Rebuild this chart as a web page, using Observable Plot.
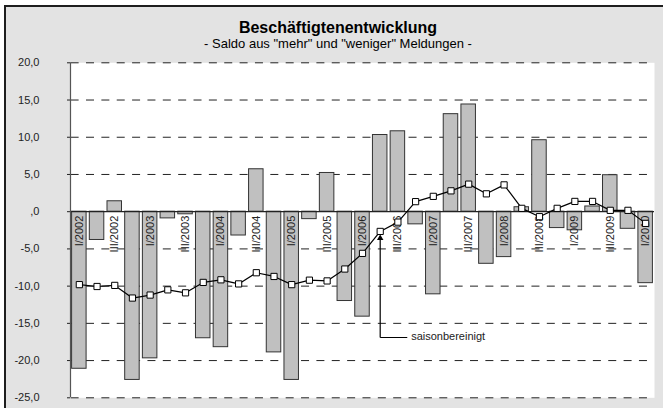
<!DOCTYPE html>
<html><head><meta charset="utf-8">
<script src="https://cdn.jsdelivr.net/npm/d3@7"></script>
<script src="https://cdn.jsdelivr.net/npm/@observablehq/plot@0.6"></script>
<style>
html,body{margin:0;padding:0;background:#fff;width:663px;height:408px;overflow:hidden;font-family:"Liberation Sans",Arial,sans-serif;}
#frame{position:absolute;left:4px;top:5px;width:720px;height:440px;border-left:2px solid #1e1e1e;border-top:2px solid #1e1e1e;background:#e3e3e3;}
.t{position:absolute;left:38px;width:600px;text-align:center;color:#000;white-space:nowrap;}
#title{top:20px;font-size:16px;line-height:16px;font-weight:bold;}
#subtitle{top:37px;font-size:13px;line-height:13px;}
#chart{position:absolute;left:6px;top:52px;}
</style></head>
<body>
<div id="frame"></div>
<div id="title" class="t">Beschäftigtenentwicklung</div>
<div id="subtitle" class="t">- Saldo aus "mehr" und "weniger" Meldungen -</div>
<div id="chart"></div>
<script>
const years = [2002, 2003, 2004, 2005, 2006, 2007, 2008, 2009, 2010];
const quarterNames = ["I", "II", "III", "IV"];
// quarterly categories I/2002 .. I/2010
const quarters = [];
years.forEach(y => quarterNames.forEach(q => quarters.push(q + "/" + y)));
quarters.length = 33;

const saldo = [-21.1, -3.8, 1.4, -22.6, -19.7, -0.9, -0.35, -17.0, -18.2, -3.2, 5.7, -18.9,
  -22.6, -1.0, 5.2, -12.0, -14.1, 10.3, 10.8, -1.7, -11.1, 13.1, 14.4, -7.0, -6.1, 0.6,
  9.6, -2.2, -2.5, 0.7, 4.9, -2.3, -9.6];
const saisonbereinigt = [-9.8, -10.05, -9.9, -11.6, -11.2, -10.5, -10.9, -9.5, -9.15, -9.7, -8.2, -8.7,
  -9.8, -9.2, -9.3, -7.7, -5.6, -2.65, -1.4, 1.35, 2.06, 2.8, 3.7, 2.4, 3.6, 0.45,
  -0.67, 0.45, 1.38, 1.38, 0.18, 0.18, -1.57];
const yTicks = [20, 15, 10, 5, 0, -5, -10, -15, -20, -25];

// annotation "saisonbereinigt" (data units: category index, value)
const annotArrow = [{x1: 17.5, y1: -16.9, x2: 17.5, y2: -3.3}];
const annotLeader = [{x1: 17.5, y1: -16.9, x2: 19.03, y2: -16.9}];
const annotText = [{x: 19.25, y: -16.9, text: "saisonbereinigt"}];

const rows = quarters.map((q, i) => ({i, q, saldo: saldo[i], sb: saisonbereinigt[i]}));
const labelRows = rows.filter(d => d.i % 2 === 0);
const fmt = d => d === 0 ? ",0" : d.toFixed(1).replace(".", ",");

const chart = Plot.plot({
  width: 657, height: 356,
  marginLeft: 64, marginRight: 9, marginTop: 10.3, marginBottom: 10.7,
  x: {domain: [0, quarters.length], axis: null},
  y: {domain: [-25, 20], ticks: yTicks, tickFormat: fmt, tickSize: 3, tickPadding: 28, label: null},
  style: {fontFamily: '"Liberation Sans", Arial, sans-serif', fontSize: "11px", color: "#222", background: "transparent", overflow: "visible"},
  marks: [
    Plot.frame({fill: "white", stroke: "none"}),
    Plot.ruleY(yTicks.filter(d => d !== 0), {stroke: "#222", strokeWidth: 1, strokeDasharray: "8,7.36", strokeDashoffset: -0.64}),
    Plot.rect(rows, {x1: "i", x2: d => d.i + 1, y1: 0, y2: "saldo", fill: "#c0c0c0", stroke: "#333", strokeWidth: 1, insetLeft: 1.6, insetRight: 1.6}),
    Plot.ruleY([0], {stroke: "#222", strokeWidth: 1.3}),
    Plot.ruleX([0], {stroke: "#555", strokeWidth: 1.2}),
    Plot.text(labelRows, {x: d => d.i + 0.5, y: 0, text: "q", rotate: -90, textAnchor: "end", lineAnchor: "middle", dy: 4, fontSize: 11, fill: "#222"}),
    Plot.line(rows, {x: d => d.i + 0.5, y: "sb", stroke: "#000", strokeWidth: 1.2}),
    Plot.dot(rows, {x: d => d.i + 0.5, y: "sb", symbol: "square", r: 3.5, fill: "white", stroke: "#000", strokeWidth: 1}),
    Plot.link(annotArrow, {x1: "x1", y1: "y1", x2: "x2", y2: "y2", stroke: "#000", strokeWidth: 1.2}),
    Plot.dot(annotArrow, {x: "x2", y: "y2", symbol: "triangle", r: 2.4, fill: "#000", stroke: "none", dy: 2}),
    Plot.link(annotLeader, {x1: "x1", y1: "y1", x2: "x2", y2: "y2", stroke: "#000", strokeWidth: 1}),
    Plot.text(annotText, {x: "x", y: "y", text: "text", textAnchor: "start", lineAnchor: "middle", dy: -1, fontSize: 11, fill: "#222"})
  ]
});
document.getElementById("chart").appendChild(chart);
</script>
</body></html>
